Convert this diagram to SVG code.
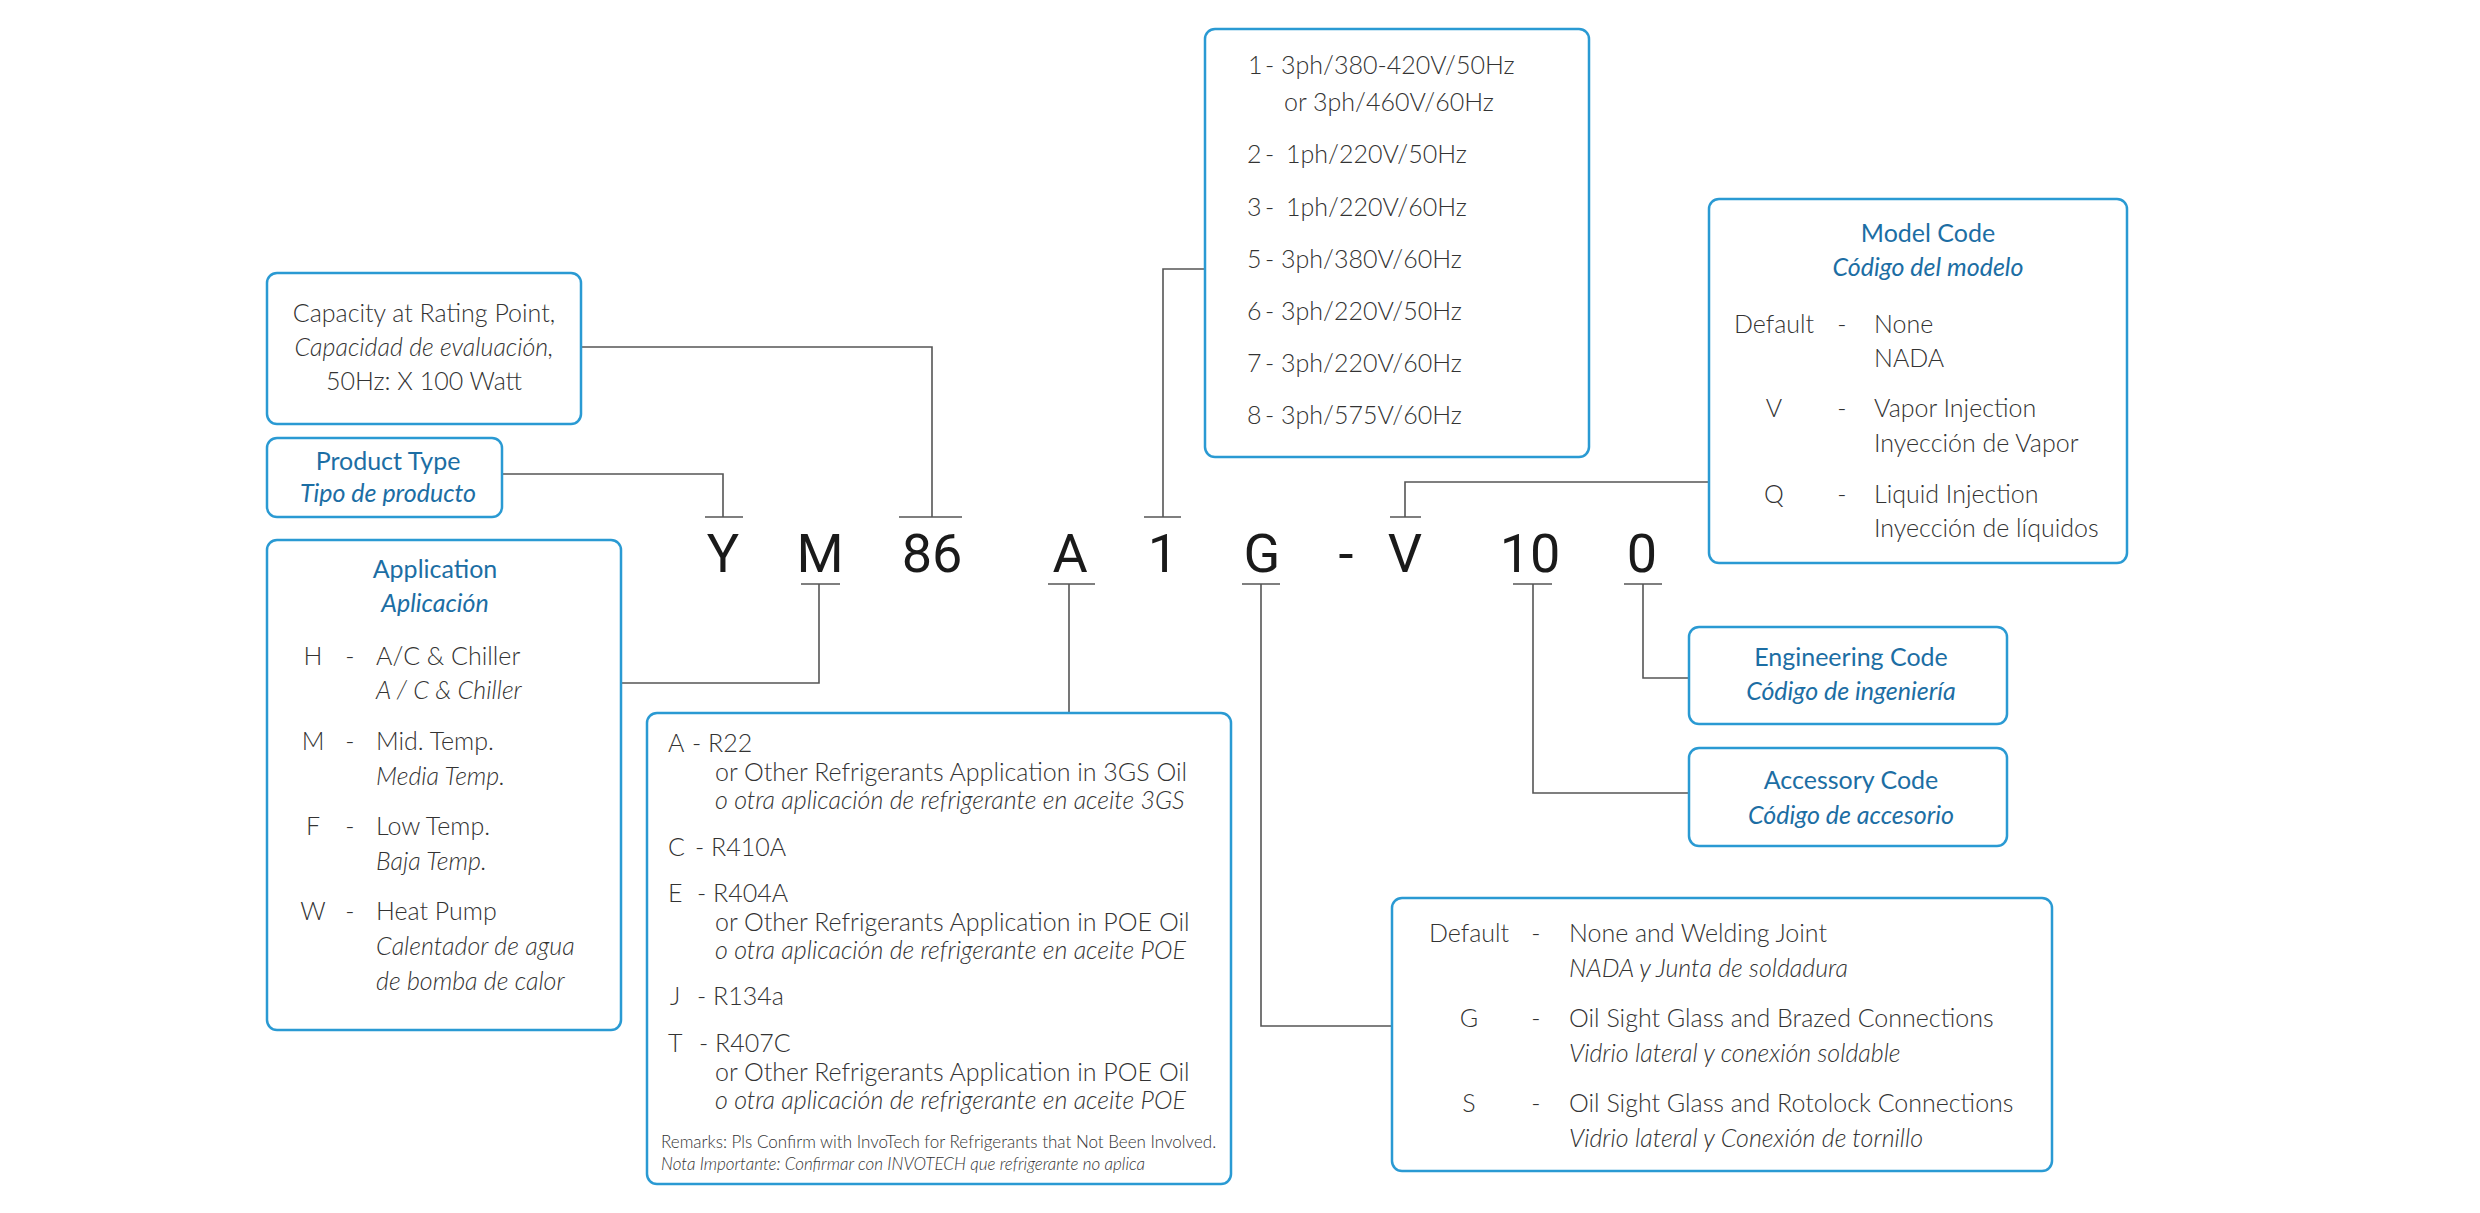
<svg xmlns="http://www.w3.org/2000/svg" width="2480" height="1213" viewBox="0 0 2480 1213">
<style>
.box{fill:#fff;stroke:#2a9ad3;stroke-width:2.5}
.ln{stroke:#555;stroke-width:1.6;fill:none}
.t{font-family:Lato,"Open Sans","Liberation Sans",sans-serif;font-weight:300;fill:#333;font-size:25px}
.s{font-size:17px}
.i{font-style:italic}
.h{fill:#1c6ea4;font-weight:400;font-size:25px}
.m{text-anchor:middle}
.code{font-family:Roboto,"Liberation Sans",sans-serif;font-size:54px;fill:#1a1a1a;text-anchor:middle}
</style>
<rect width="2480" height="1213" fill="#fff"/>
<g id="connectors">
<path class="ln" d="M581 347H932V517M899 517H962"/>
<path class="ln" d="M502 474H723V517M705 517H743"/>
<path class="ln" d="M1205 269H1163V517M1144 517H1181"/>
<path class="ln" d="M1709 482H1405V517M1390 517H1421"/>
<path class="ln" d="M621 683H819V584M801 584H840"/>
<path class="ln" d="M1069 713V584M1048 584H1095"/>
<path class="ln" d="M1392 1026H1261V584M1242 584H1280"/>
<path class="ln" d="M1689 793H1533V584M1513 584H1552"/>
<path class="ln" d="M1689 678H1643V584M1624 584H1662"/>
</g>
<g id="code">
<text class="code" x="723" y="572">Y</text>
<text class="code" x="820" y="572">M</text>
<text class="code" x="932" y="572">86</text>
<text class="code" x="1070" y="572">A</text>
<text class="code" x="1163" y="572">1</text>
<text class="code" x="1262" y="572">G</text>
<text class="code" x="1346" y="572">-</text>
<text class="code" x="1405" y="572">V</text>
<text class="code" x="1530" y="572">10</text>
<text class="code" x="1642" y="572">0</text>
</g>
<g id="capacity">
<rect class="box" x="267" y="273" width="314" height="151" rx="10"/>
<text class="t m" x="424" y="322">Capacity at Rating Point,</text>
<text class="t m i" x="424" y="356">Capacidad de evaluación,</text>
<text class="t m" x="424" y="390">50Hz: X 100 Watt</text>
</g>
<g id="product-type">
<rect class="box" x="267" y="438" width="235" height="79" rx="10"/>
<text class="t h m" x="388" y="470">Product Type</text>
<text class="t h m i" x="388" y="502">Tipo de producto</text>
</g>
<g id="application">
<rect class="box" x="267" y="540" width="354" height="490" rx="10"/>
<text class="t h m" x="435" y="578">Application</text>
<text class="t h m i" x="435" y="612">Aplicación</text>
<text class="t m" x="313" y="665">H</text><text class="t m" x="350" y="665">-</text>
<text class="t" x="376" y="665">A/C &amp; Chiller</text>
<text class="t i" x="376" y="699">A / C &amp; Chiller</text>
<text class="t m" x="313" y="750">M</text><text class="t m" x="350" y="750">-</text>
<text class="t" x="376" y="750">Mid. Temp.</text>
<text class="t i" x="376" y="785">Media Temp.</text>
<text class="t m" x="313" y="835">F</text><text class="t m" x="350" y="835">-</text>
<text class="t" x="376" y="835">Low Temp.</text>
<text class="t i" x="376" y="870">Baja Temp.</text>
<text class="t m" x="313" y="920">W</text><text class="t m" x="350" y="920">-</text>
<text class="t" x="376" y="920">Heat Pump</text>
<text class="t i" x="376" y="955">Calentador de agua</text>
<text class="t i" x="376" y="990">de bomba de calor</text>
</g>
<g id="refrigerant">
<rect class="box" x="647" y="713" width="584" height="471" rx="10"/>
<text class="t" x="668" y="752">A<tspan x="692">-</tspan><tspan x="708">R22</tspan></text>
<text class="t" x="715" y="781">or Other Refrigerants Application in 3GS Oil</text>
<text class="t i" x="715" y="809">o otra aplicación de refrigerante en aceite 3GS</text>
<text class="t" x="668" y="856">C<tspan x="695">-</tspan><tspan x="711">R410A</tspan></text>
<text class="t" x="668" y="902">E<tspan x="697">-</tspan><tspan x="713">R404A</tspan></text>
<text class="t" x="715" y="931">or Other Refrigerants Application in POE Oil</text>
<text class="t i" x="715" y="959">o otra aplicación de refrigerante en aceite POE</text>
<text class="t" x="670" y="1005">J<tspan x="697">-</tspan><tspan x="713">R134a</tspan></text>
<text class="t" x="668" y="1052">T<tspan x="699">-</tspan><tspan x="715">R407C</tspan></text>
<text class="t" x="715" y="1081">or Other Refrigerants Application in POE Oil</text>
<text class="t i" x="715" y="1109">o otra aplicación de refrigerante en aceite POE</text>
<text class="t s" x="661" y="1148">Remarks: Pls Confirm with InvoTech for Refrigerants that Not Been Involved.</text>
<text class="t s i" x="661" y="1170">Nota Importante: Confirmar con INVOTECH que refrigerante no aplica</text>
</g>
<g id="voltage">
<rect class="box" x="1205" y="29" width="384" height="428" rx="10"/>
<text class="t" x="1248" y="74">1<tspan x="1265">-</tspan><tspan x="1281">3ph/380-420V/50Hz</tspan></text>
<text class="t" x="1284" y="111">or 3ph/460V/60Hz</text>
<text class="t" x="1247" y="163">2<tspan x="1265">-</tspan><tspan x="1286">1ph/220V/50Hz</tspan></text>
<text class="t" x="1247" y="216">3<tspan x="1265">-</tspan><tspan x="1286">1ph/220V/60Hz</tspan></text>
<text class="t" x="1247" y="268">5<tspan x="1265">-</tspan><tspan x="1281">3ph/380V/60Hz</tspan></text>
<text class="t" x="1247" y="320">6<tspan x="1265">-</tspan><tspan x="1281">3ph/220V/50Hz</tspan></text>
<text class="t" x="1247" y="372">7<tspan x="1265">-</tspan><tspan x="1281">3ph/220V/60Hz</tspan></text>
<text class="t" x="1247" y="424">8<tspan x="1265">-</tspan><tspan x="1281">3ph/575V/60Hz</tspan></text>
</g>
<g id="model-code">
<rect class="box" x="1709" y="199" width="418" height="364" rx="10"/>
<text class="t h m" x="1928" y="242">Model Code</text>
<text class="t h m i" x="1928" y="276">Código del modelo</text>
<text class="t m" x="1774" y="333">Default</text><text class="t m" x="1842" y="333">-</text>
<text class="t" x="1874" y="333">None</text>
<text class="t" x="1874" y="367">NADA</text>
<text class="t m" x="1774" y="417">V</text><text class="t m" x="1842" y="417">-</text>
<text class="t" x="1874" y="417">Vapor Injection</text>
<text class="t" x="1874" y="452">Inyección de Vapor</text>
<text class="t m" x="1774" y="503">Q</text><text class="t m" x="1842" y="503">-</text>
<text class="t" x="1874" y="503">Liquid Injection</text>
<text class="t" x="1874" y="537">Inyección de líquidos</text>
</g>
<g id="engineering-code">
<rect class="box" x="1689" y="627" width="318" height="97" rx="10"/>
<text class="t h m" x="1851" y="666">Engineering Code</text>
<text class="t h m i" x="1851" y="700">Código de ingeniería</text>
</g>
<g id="accessory-code">
<rect class="box" x="1689" y="748" width="318" height="98" rx="10"/>
<text class="t h m" x="1851" y="789">Accessory Code</text>
<text class="t h m i" x="1851" y="824">Código de accesorio</text>
</g>
<g id="connection">
<rect class="box" x="1392" y="898" width="660" height="273" rx="10"/>
<text class="t m" x="1469" y="942">Default</text><text class="t m" x="1536" y="942">-</text>
<text class="t" x="1569" y="942">None and Welding Joint</text>
<text class="t i" x="1569" y="977">NADA y Junta de soldadura</text>
<text class="t m" x="1469" y="1027">G</text><text class="t m" x="1536" y="1027">-</text>
<text class="t" x="1569" y="1027">Oil Sight Glass and Brazed Connections</text>
<text class="t i" x="1569" y="1062">Vidrio lateral y conexión soldable</text>
<text class="t m" x="1469" y="1112">S</text><text class="t m" x="1536" y="1112">-</text>
<text class="t" x="1569" y="1112">Oil Sight Glass and Rotolock Connections</text>
<text class="t i" x="1569" y="1147">Vidrio lateral y Conexión de tornillo</text>
</g>
</svg>
